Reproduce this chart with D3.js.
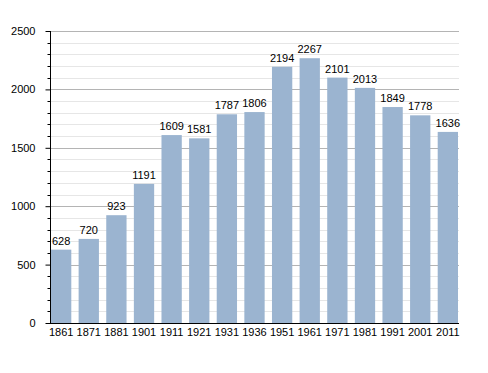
<!DOCTYPE html>
<html>
<head>
<meta charset="utf-8">
<script src="https://cdnjs.cloudflare.com/ajax/libs/d3/7.8.5/d3.min.js"></script>
<style>
	body { margin: 0; background: #fff; }
	text { font-family: "Liberation Sans", Arial, sans-serif; font-size: 11px; fill: #000; }
</style>
</head>
<body>
<div id="chart"></div>
<script>
const years = ["1861", "1871", "1881", "1901", "1911", "1921", "1931", "1936", "1951", "1961", "1971", "1981", "1991", "2001", "2011"];
const population = [628, 720, 923, 1191, 1609, 1581, 1787, 1806, 2194, 2267, 2101, 2013, 1849, 1778, 1636];
const majorTicks = [0, 500, 1000, 1500, 2000, 2500];

const width = 488, height = 373;
const plotLeft = 50, plotRight = 458, plotTop = 31, plotBottom = 323;

const svg = d3.select("#chart")
	.append("svg")
		.attr("width", width)
		.attr("height", height);

const x = d3.scaleBand()
	.domain(years)
	.range([plotLeft + 1, plotRight])
	.paddingInner(0.265)
	.paddingOuter(0);

const y = d3.scaleLinear()
	.domain([0, 2500])
	.range([plotBottom, plotTop]);

const minorTicks = d3.range(0, 2501, 100).filter(v => v % 500 !== 0);

// minor grid
svg.append("g")
	.selectAll("line")
	.data(minorTicks)
	.enter()
		.append("line")
		.attr("x1", plotLeft)
		.attr("x2", plotRight + 1)
		.attr("y1", d => Math.round(y(d)) + 0.5)
		.attr("y2", d => Math.round(y(d)) + 0.5)
		.attr("stroke", "#e6e6e6")
		.attr("stroke-width", 1);

// major grid
svg.append("g")
	.selectAll("line")
	.data(majorTicks.filter(d => d > 0))
	.enter()
		.append("line")
		.attr("x1", plotLeft)
		.attr("x2", plotRight + 1)
		.attr("y1", d => Math.round(y(d)) + 0.5)
		.attr("y2", d => Math.round(y(d)) + 0.5)
		.attr("stroke", "#b4b4b4")
		.attr("stroke-width", 1);

// bars
svg.append("g")
	.selectAll("rect")
	.data(population)
	.enter()
		.append("rect")
		.attr("x", (d, i) => x(years[i]))
		.attr("y", d => y(d))
		.attr("width", x.bandwidth())
		.attr("height", d => plotBottom - y(d))
		.attr("fill", "#9bb4d0");

// value labels
svg.append("g")
	.selectAll("text")
	.data(population)
	.enter()
		.append("text")
		.attr("x", (d, i) => x(years[i]) + x.bandwidth() / 2)
		.attr("y", d => y(d) - 5)
		.attr("text-anchor", "middle")
		.text(d => d);

// y axis
const yAxis = svg.append("g").attr("transform", "translate(" + (plotLeft + 0.5) + ",0)");

yAxis.call(d3.axisLeft(y).tickValues(majorTicks).tickSize(5).tickPadding(10).tickFormat(d3.format("d")));
yAxis.selectAll(".tick line").attr("stroke", "#000");
yAxis.selectAll(".tick text").style("font-family", "Liberation Sans, Arial, sans-serif").style("font-size", "11px");

yAxis.selectAll(".minor")
	.data(minorTicks)
	.enter()
		.append("line")
		.attr("class", "minor")
		.attr("x1", -3)
		.attr("x2", 0)
		.attr("y1", d => Math.round(y(d)) + 0.5)
		.attr("y2", d => Math.round(y(d)) + 0.5)
		.attr("stroke", "#000");

yAxis.select(".domain").attr("d", "M0," + plotTop + "V" + plotBottom).attr("stroke", "#000");

// x axis
svg.append("line")
	.attr("x1", plotLeft)
	.attr("x2", plotRight + 1)
	.attr("y1", plotBottom + 0.5)
	.attr("y2", plotBottom + 0.5)
	.attr("stroke", "#000");

svg.append("g")
	.selectAll("text")
	.data(years)
	.enter()
		.append("text")
		.attr("x", d => x(d) + x.bandwidth() / 2)
		.attr("y", plotBottom + 13)
		.attr("text-anchor", "middle")
		.text(d => d);
</script>
</body>
</html>
